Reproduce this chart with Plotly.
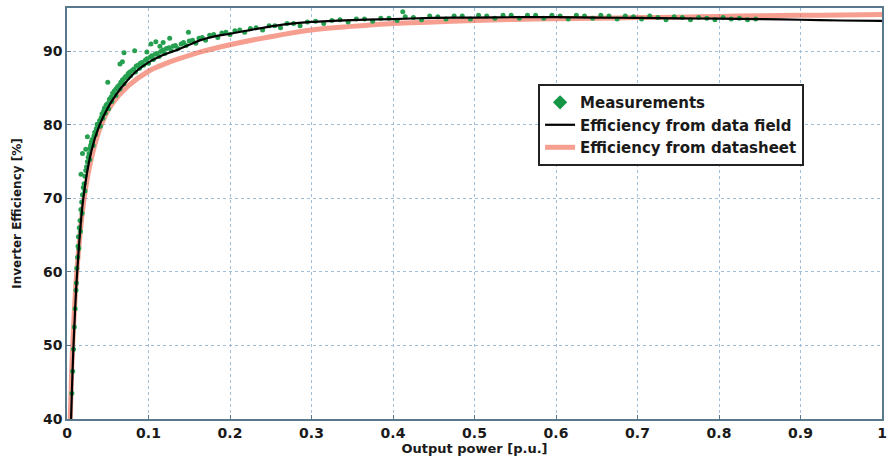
import plotly.graph_objects as go

# Efficiency from data field (black curve)
field_x = [0.005, 0.008, 0.0125, 0.02, 0.03, 0.04, 0.05, 0.06, 0.073, 0.085, 0.1, 0.12, 0.135, 0.15,
           0.163, 0.18, 0.2, 0.22, 0.245, 0.27, 0.3, 0.35, 0.4, 0.45, 0.5, 0.55, 0.6, 0.65, 0.7,
           0.75, 0.8, 0.85, 0.9, 0.95, 1.0]
field_y = [40, 50, 60, 70, 76.5, 80, 82.3, 84.1, 85.9, 87.3, 88.5, 89.6, 90.2, 90.9,
           91.5, 92.0, 92.4, 92.8, 93.3, 93.7, 94.0, 94.25, 94.4, 94.55, 94.6, 94.65, 94.65, 94.6, 94.55,
           94.5, 94.45, 94.4, 94.3, 94.2, 94.15]

# Efficiency from datasheet (red curve)
sheet_x = [0.004, 0.007, 0.012, 0.021, 0.03, 0.042, 0.055, 0.075, 0.1, 0.12, 0.135, 0.163, 0.2,
           0.25, 0.3, 0.35, 0.4, 0.45, 0.5, 0.55, 0.6, 0.65, 0.7, 0.75, 0.8, 0.85, 0.9, 0.95, 1.0]
sheet_y = [40, 50, 60, 70, 75.5, 80, 82.8, 85.3, 87.3, 88.3, 88.9, 89.9, 90.9,
           92.0, 92.9, 93.4, 93.8, 94.0, 94.2, 94.35, 94.45, 94.5, 94.6, 94.65, 94.75, 94.85, 94.9, 94.95, 95.0]

# Measurements (green dots)
meas_x = [0.006, 0.007, 0.008, 0.009, 0.010, 0.011, 0.0115, 0.012, 0.013, 0.0135, 0.014, 0.0145,
          0.015, 0.016, 0.0165, 0.017, 0.018, 0.0185, 0.019, 0.020, 0.021, 0.022, 0.022, 0.023,
          0.024, 0.025, 0.026, 0.027, 0.028, 0.028, 0.029, 0.030, 0.031, 0.032, 0.033, 0.034,
          0.035, 0.036, 0.037,
          0.038, 0.040, 0.041, 0.042, 0.043, 0.044, 0.045, 0.046, 0.047, 0.048, 0.050, 0.051,
          0.052, 0.054, 0.055, 0.056, 0.058, 0.060, 0.060, 0.062, 0.064, 0.065, 0.066, 0.068,
          0.070, 0.070, 0.072, 0.074, 0.075, 0.077, 0.078, 0.080, 0.082, 0.084, 0.085, 0.087,
          0.089, 0.090, 0.092, 0.094, 0.096, 0.098, 0.100, 0.102, 0.104, 0.106, 0.108, 0.110,
          0.113, 0.115, 0.118, 0.120, 0.122, 0.125, 0.128, 0.130, 0.133, 0.136, 0.140, 0.143,
          0.146, 0.150, 0.154, 0.158, 0.162, 0.166, 0.170, 0.175, 0.180, 0.185, 0.190, 0.195,
          0.200, 0.206, 0.212, 0.218, 0.225, 0.232, 0.240, 0.248, 0.255, 0.262, 0.270, 0.278,
          0.286, 0.295, 0.305, 0.315, 0.325, 0.335, 0.345, 0.355, 0.365, 0.375, 0.385, 0.395,
          0.405, 0.415, 0.425, 0.435, 0.445, 0.455, 0.465, 0.475, 0.485, 0.495, 0.505, 0.515,
          0.525, 0.535, 0.545, 0.555, 0.565, 0.575, 0.585, 0.595, 0.605, 0.615, 0.625, 0.635,
          0.645, 0.655, 0.665, 0.675, 0.685, 0.695, 0.705, 0.715, 0.725, 0.735, 0.745, 0.755,
          0.765, 0.775, 0.785, 0.795, 0.805, 0.815, 0.825, 0.835, 0.845,
          0.0172, 0.019, 0.023, 0.025, 0.030, 0.050, 0.065, 0.068, 0.070, 0.083, 0.098, 0.103,
          0.109, 0.114, 0.118, 0.126, 0.149, 0.412]
meas_y = [43.5, 46.5, 49.5, 52.5, 55.0, 57.5, 58.5, 60.5, 62.0, 63.5, 64.8, 63.2,
          66.0, 67.0, 65.5, 68.5, 69.5, 68.0, 70.5, 71.5, 72.0, 71.0, 73.0, 73.8,
          74.3, 75.0, 75.6, 76.1, 75.3, 76.8, 77.2, 77.5, 78.0, 77.2, 78.5, 79.0,
          78.7, 79.5, 80.1,
          80.0, 80.6, 79.8, 81.0, 81.5, 80.9, 81.9, 82.3, 81.6, 82.7, 82.9, 82.2,
          83.5, 83.8, 83.2, 84.3, 84.6, 84.0, 84.9, 85.2, 85.4, 84.9, 85.8, 86.1,
          85.6, 86.3, 86.6, 86.4, 87.0, 87.2, 86.7, 87.4, 87.6, 87.2, 88.0, 88.1,
          87.7, 88.4, 88.5, 88.1, 88.8, 89.0, 88.4, 89.2, 89.4, 88.9, 89.6, 89.7,
          89.3, 90.0, 90.2, 89.7, 90.4, 90.5, 90.1, 90.7, 90.8, 90.4, 91.0, 91.2,
          90.8, 91.4, 91.5, 91.1, 91.8, 91.9, 91.5, 92.2, 92.3, 91.9, 92.5, 92.6,
          92.3, 92.8, 92.9, 92.6, 93.1, 93.2, 92.9, 93.5, 93.5, 93.2, 93.8, 93.8,
          93.5, 94.0, 94.1, 93.8, 94.2, 94.3, 94.0, 94.4, 94.4, 94.1, 94.5, 94.5,
          94.2, 94.7, 94.6, 94.3, 94.8, 94.7, 94.4, 94.8, 94.8, 94.4, 94.9, 94.8,
          94.5, 94.9, 94.9, 94.5, 94.9, 94.9, 94.5, 94.9, 94.8, 94.4, 94.9, 94.8,
          94.5, 94.9, 94.8, 94.4, 94.8, 94.7, 94.4, 94.8, 94.6, 94.3, 94.7, 94.6,
          94.3, 94.6, 94.5, 94.3, 94.6, 94.4, 94.5, 94.3, 94.4,
          73.3, 76.1, 76.7, 78.4, 77.7, 85.8, 88.3, 88.6, 89.8, 90.1, 89.9, 91.0,
          91.3, 90.7, 91.2, 91.8, 92.6, 95.4]

x_ticks = [0, 0.1, 0.2, 0.3, 0.4, 0.5, 0.6, 0.7, 0.8, 0.9, 1]
x_labels = ["0", "0.1", "0.2", "0.3", "0.4", "0.5", "0.6", "0.7", "0.8", "0.9", "1"]
y_ticks = [40, 50, 60, 70, 80, 90]

GREEN = "rgb(38,160,80)"
RED = "rgba(240,95,70,0.6)"
FONT = "DejaVu Sans"
TXT = "#1a1a1a"

fig = go.Figure()
fig.add_trace(go.Scatter(x=sheet_x, y=sheet_y, mode="lines", name="Efficiency from datasheet",
                         line=dict(color=RED, width=5, shape="spline"), legendrank=3))
fig.add_trace(go.Scatter(x=meas_x, y=meas_y, mode="markers", name="Measurements", showlegend=False,
                         marker=dict(color=GREEN, size=5, symbol="circle")))
fig.add_trace(go.Scatter(x=[None], y=[None], mode="markers", name="Measurements",
                         marker=dict(color="rgb(20,150,70)", size=11, symbol="diamond"), legendrank=1))
fig.add_trace(go.Scatter(x=field_x, y=field_y, mode="lines", name="Efficiency from data field",
                         line=dict(color="black", width=2.2, shape="spline"), legendrank=2))

axis_common = dict(
    showgrid=True, gridcolor="rgb(160,190,215)", griddash="dot", gridwidth=1,
    showline=True, linecolor="rgb(90,120,140)", linewidth=1.5, mirror=True,
    ticks="inside", ticklen=4, tickcolor="rgb(90,120,140)",
    tickfont=dict(family=FONT, size=14, color=TXT, weight="bold"),
    zeroline=False, automargin=False,
)

fig.update_xaxes(range=[0, 1], tickvals=x_ticks, ticktext=x_labels,
                 title=dict(text="Output power [p.u.]", standoff=4,
                            font=dict(family=FONT, size=13, color=TXT, weight="bold")),
                 **axis_common)
fig.update_yaxes(range=[40, 95.9], tickvals=y_ticks,
                 title=dict(text="Inverter Efficiency [%]", standoff=19,
                            font=dict(family=FONT, size=12, color=TXT, weight="bold")),
                 **axis_common)

fig.update_layout(
    width=891, height=463,
    margin=dict(l=67, r=9, t=8, b=44),
    plot_bgcolor="white", paper_bgcolor="white",
    legend=dict(x=0.578, y=0.815, xanchor="left", yanchor="top",
                bgcolor="white", bordercolor="#222222", borderwidth=2,
                font=dict(family=FONT, size=15, color=TXT, weight="bold"),
                itemwidth=30, tracegroupgap=0),
)

fig.write_html("out.html", config={"displayModeBar": False},
               post_script="document.body.style.margin='0';")
